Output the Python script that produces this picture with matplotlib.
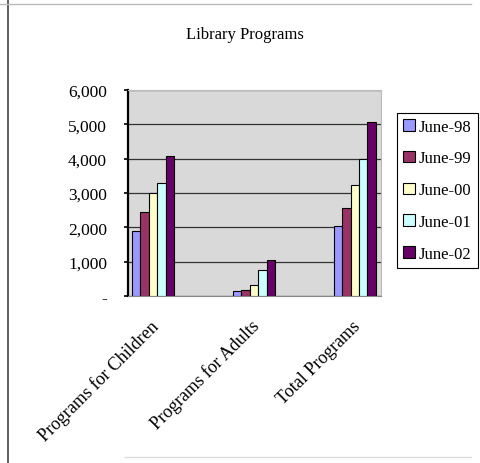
import numpy as np
import matplotlib.pyplot as plt
from matplotlib.lines import Line2D
from matplotlib.ticker import FuncFormatter

plt.rcParams['font.family'] = ['Liberation Serif', 'DejaVu Serif']

categories = ['Programs for Children', 'Programs for Adults', 'Total Programs']
series = ['June-98', 'June-99', 'June-00', 'June-01', 'June-02']
children = [1900, 2450, 2990, 3280, 4080]
adults = [150, 180, 310, 750, 1060]
totals = [2040, 2550, 3230, 4000, 5080]
colors = ['#9999ff', '#993366', '#ffffcc', '#ccffff', '#660066']

values = np.array([children, adults, totals]).T

fig = plt.figure(figsize=(4.81, 4.64), dpi=100)
ax = fig.add_axes([0.266, 0.36, 0.526, 0.444])
ax.set_facecolor('#d9d9d9')

x = np.arange(len(categories))
w = 0.084
for i, name in enumerate(series):
    ax.bar(x + (i - 2) * w, values[i], width=w, color=colors[i],
           edgecolor='black', linewidth=0.8, label=name, zorder=3)

ax.set_ylim(0, 6000)
ax.set_xlim(-0.25, 2.26)
ax.set_yticks(range(0, 6001, 1000))
ax.yaxis.set_major_formatter(FuncFormatter(lambda v, p: '-' if v == 0 else f'{int(v):,}'))
ax.tick_params(axis='y', labelsize=12.5, length=3, width=1.2, direction='out', pad=12)
ax.grid(axis='y', color='#333333', linewidth=0.9, zorder=1)

ax.set_xticks(x - 0.03)
ax.set_xticklabels(categories, rotation=45, ha='right', va='top',
                   rotation_mode='anchor', fontsize=13)
ax.tick_params(axis='x', length=0, pad=15)

for side in ['top', 'right']:
    ax.spines[side].set_color('#bbbbbb')
ax.spines['left'].set_linewidth(1.6)
ax.spines['bottom'].set_color('#888888')

fig.text(0.51, 0.925, 'Library Programs', ha='center', va='center', fontsize=12)

leg = fig.legend(loc='upper left', bbox_to_anchor=(0.826, 0.755), fontsize=12,
                 handlelength=0.7, handleheight=0.7, handletextpad=0.25,
                 labelspacing=0.95, borderpad=0.35, borderaxespad=0,
                 fancybox=False, edgecolor='black', framealpha=1)
leg.get_frame().set_linewidth(0.8)

# chart frame
fig.add_artist(Line2D([0.017, 0.017], [0.0, 1.0], color='#444444', linewidth=1.2))
fig.add_artist(Line2D([0.0, 0.98], [0.99, 0.99], color='#bbbbbb', linewidth=1.0))
fig.add_artist(Line2D([0.26, 0.98], [0.013, 0.013], color='#dddddd', linewidth=1.0))

fig.savefig('out.png', dpi=100)
